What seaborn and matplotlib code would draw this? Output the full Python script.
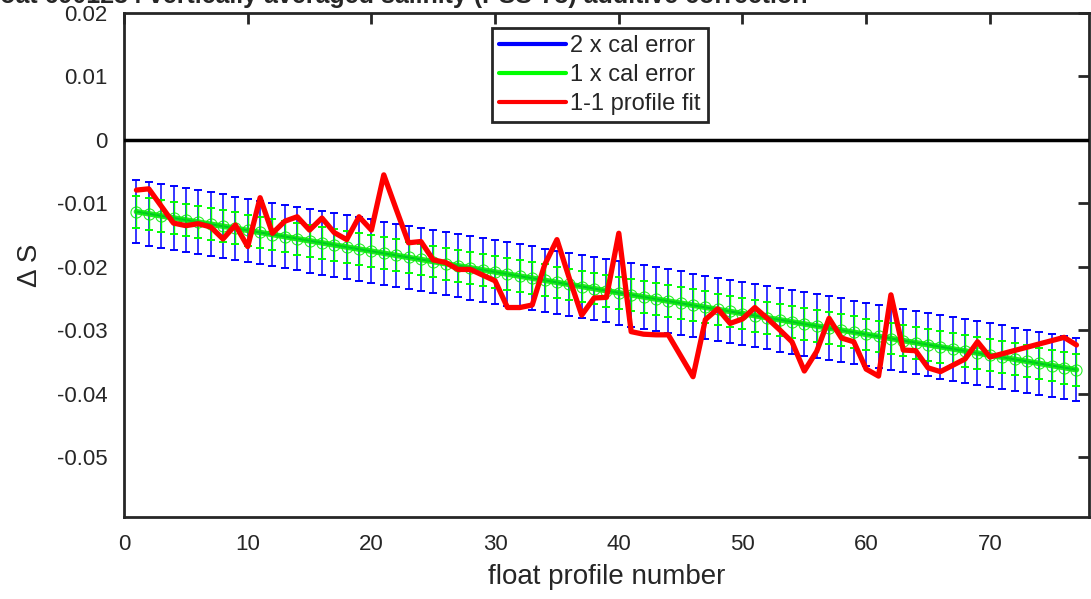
import seaborn as sns
import matplotlib.pyplot as plt
import matplotlib.ticker as mticker
from matplotlib.lines import Line2D
import numpy as np
import pandas as pd

# profile numbers of the calibration fit
profiles = list(range(1, 78))

# additive correction (linear fit) for each profile
correction = [
    -0.01130, -0.01163, -0.01196, -0.01228, -0.01261, -0.01294, -0.01327, -0.01359, -0.01392, -0.01425,
    -0.01458, -0.01490, -0.01523, -0.01556, -0.01589, -0.01621, -0.01654, -0.01687, -0.01720, -0.01752,
    -0.01785, -0.01818, -0.01851, -0.01883, -0.01916, -0.01949, -0.01982, -0.02014, -0.02047, -0.02080,
    -0.02113, -0.02146, -0.02178, -0.02211, -0.02244, -0.02277, -0.02309, -0.02342, -0.02375, -0.02408,
    -0.02440, -0.02473, -0.02506, -0.02539, -0.02571, -0.02604, -0.02637, -0.02670, -0.02702, -0.02735,
    -0.02768, -0.02801, -0.02833, -0.02866, -0.02899, -0.02932, -0.02964, -0.02997, -0.03030, -0.03063,
    -0.03095, -0.03128, -0.03161, -0.03194, -0.03226, -0.03259, -0.03292, -0.03325, -0.03357, -0.03390,
    -0.03423, -0.03456, -0.03488, -0.03521, -0.03554, -0.03587, -0.03620,
]
cal_error = 0.0025

# 1-1 profile fit
fit_profiles = list(range(1, 71)) + [76, 77]
fit_values = [
    -0.0079, -0.0077, -0.0104, -0.0131, -0.0135, -0.0132, -0.0137, -0.0156, -0.0134, -0.0168,
    -0.0091, -0.0147, -0.0128, -0.0121, -0.0142, -0.0123, -0.0146, -0.0157, -0.0121, -0.0142,
    -0.0055, -0.0109, -0.0162, -0.0160, -0.0189, -0.0193, -0.0204, -0.0204, -0.0213, -0.0222,
    -0.0264, -0.0264, -0.0260, -0.0197, -0.0157, -0.0218, -0.0276, -0.0249, -0.0248, -0.0147,
    -0.0302, -0.0306, -0.0307, -0.0307, -0.0340, -0.0373, -0.0283, -0.0266, -0.0289, -0.0282,
    -0.0264, -0.0281, -0.0299, -0.0318, -0.0364, -0.0333, -0.0281, -0.0312, -0.0318, -0.0361,
    -0.0372, -0.0244, -0.0331, -0.0332, -0.0359, -0.0365, -0.0355, -0.0345, -0.0318, -0.0342,
    -0.0311, -0.0323,
]

title_text = "Float 6901234 vertically averaged salinity (PSS-78) additive correction"

sns.set_style("white")
plt.rcParams['font.family'] = ['Liberation Sans', 'DejaVu Sans']

fig = plt.figure(figsize=(10.91, 5.99), dpi=100)
ax = fig.add_axes([0.1137, 0.1369, 0.8843, 0.8414])

cal = pd.DataFrame({'profile': profiles, 'correction': correction})
fit = pd.DataFrame({'profile': fit_profiles, 'dS': fit_values})

# 2 x cal error
ax.errorbar(cal['profile'], cal['correction'], yerr=2 * cal_error, fmt='none',
            ecolor='#0000ff', elinewidth=1.1, capsize=3, capthick=1.4, zorder=2)
sns.lineplot(data=cal, x='profile', y='correction', color='#0000ff', lw=1.5, ax=ax, zorder=2)
# 1 x cal error
ax.errorbar(cal['profile'], cal['correction'], yerr=cal_error, fmt='none',
            ecolor='#00ff00', elinewidth=1.0, capsize=3, capthick=1.4, zorder=3)
sns.lineplot(data=cal, x='profile', y='correction', color='#00e600', lw=4, alpha=0.85,
             marker='o', markersize=8, markerfacecolor='none', markeredgecolor='#00ee00',
             markeredgewidth=0.8, ax=ax, zorder=3)

ax.axhline(0, color='black', lw=2.5, zorder=4)

# 1-1 profile fit
sns.lineplot(data=fit, x='profile', y='dS', color='#ff0000', lw=3.8, ax=ax, zorder=5)

ax.set_xlim(0, 78)
ax.set_ylim(-0.0594, 0.02)
ax.set_xticks(range(0, 80, 10))
ax.set_yticks(np.arange(-0.05, 0.025, 0.01))
ax.yaxis.set_major_formatter(mticker.FuncFormatter(
    lambda v, p: '0' if abs(v) < 1e-9 else ('%g' % round(v, 3)).replace('\u2212', '-')))
ax.tick_params(direction='in', length=8, width=2, color='#262626', labelsize=16,
               top=True, right=True, labelcolor='#262626', pad=12)
for s in ax.spines.values():
    s.set_linewidth(2)
    s.set_color('#262626')

ax.set_xlabel('float profile number', fontsize=20, color='#262626', labelpad=7)
ax.set_ylabel('\u0394 S', fontsize=20, color='#262626', labelpad=10)

handles = [Line2D([], [], color='#0000ff', lw=3),
           Line2D([], [], color='#00ff00', lw=3),
           Line2D([], [], color='#ff0000', lw=3)]
leg = ax.legend(handles, ['2 x cal error', '1 x cal error', '1-1 profile fit'],
                loc='upper center', bbox_to_anchor=(0.4935, 0.97), fontsize=17,
                fancybox=False, framealpha=1, edgecolor='#262626', handlelength=2.8,
                handletextpad=0.2, borderpad=0.3, labelspacing=0.3, borderaxespad=0)
leg.get_frame().set_linewidth(2)

fig.text(807 / 1091, 1 - 3 / 599, title_text, ha='right', va='baseline',
         fontsize=18, fontweight='bold')

fig.savefig('out.png', dpi=100)
